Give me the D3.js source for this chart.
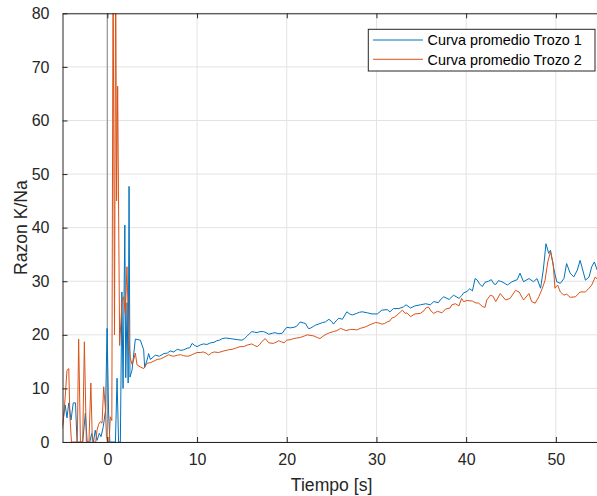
<!DOCTYPE html>
<html>
<head>
<meta charset="utf-8">
<script src="https://cdn.jsdelivr.net/npm/d3@7"></script>
<style>
  body { margin: 0; background: #fff; }
  svg { display: block; font-family: "Liberation Sans", Arial, sans-serif; }
</style>
</head>
<body>
<svg width="597" height="496"></svg>
<script>
// Curva promedio Trozo 1 (tiempo [s], razon K/Na)
var time1 = [-5.0, -4.7, -4.5, -4.3, -4.05, -3.8, -3.55, -3.38, -2.75, -2.45, -2.25, -1.95, -1.75, -1.55, -1.35, -1.15, -0.9, -0.7, -0.45, -0.2, -0.03, 0.14, 0.28, 0.9, 1.08, 1.25, 1.45, 1.62, 1.75, 1.95, 2.05, 2.2, 2.32, 2.42, 2.52, 2.75, 3.12, 3.68, 4.05, 4.16, 4.43, 4.6,
  4.8, 5.35, 5.8, 6.3, 6.7, 7.0, 7.4, 7.8, 8.2, 8.5, 8.9, 9.2, 9.45, 9.75, 10.0, 10.35, 10.7, 11.1, 11.5, 11.9, 12.2, 12.5, 12.8, 13.2, 13.7, 14.1, 14.5, 15.0, 15.3, 15.6, 15.9, 16.1, 16.4, 16.7, 17.0, 17.4, 17.7, 18.0, 18.4, 18.7, 19.1, 19.5, 19.75, 20.0, 20.4, 20.8, 21.1, 21.5, 21.9, 22.1, 22.4, 22.6, 23.0, 23.2, 23.7, 24.0, 24.3, 24.7, 25.0, 25.2, 25.5, 25.8, 26.2, 26.7, 27.0, 27.3, 27.8, 28.1, 28.4, 29.0, 29.5, 30.1, 30.6, 31.2, 31.5, 31.9, 32.5, 33.0, 33.3, 33.8, 34.3, 34.9, 35.5, 36.0, 36.4, 36.9, 37.1, 37.5, 38.1, 38.6, 39.2, 39.5, 39.7, 40.1, 40.4, 40.7, 41.0, 41.2, 41.5, 41.8, 42.1, 42.5, 42.8, 43.1, 43.3, 43.6, 43.8, 44.0, 44.6, 45.1, 45.7, 46.0, 46.4, 47.0, 47.5, 47.9, 48.3, 48.6, 48.9, 49.2, 49.4, 49.8, 50.1, 50.5, 50.9, 51.2, 51.6, 52.0, 52.4, 52.7, 52.9, 53.3, 53.7, 54.0, 54.3, 54.6, 55.0];
var trozo1 = [3.2, 6.9, 4.5, 7.3, 4.1, 7.3, 7.3, 0, 0, 5.4, 0, 0, 1.6, 0, 2.2, 0.3, 1.6, 1.0, 2.9, 6.0, 21.2, 5.4, 0, 0, 11.9, 0, 0, 28, 10, 40.5, 12, 26, 11, 47.7, 12.1, 13.4, 19.2, 19.0, 17.2, 13.9, 15.3, 16.5,
  15.4, 16.2, 16.0, 16.5, 16.6, 17.0, 16.8, 17.3, 17.1, 17.2, 17.5, 17.6, 18.4, 18.0, 17.8, 18.1, 18.3, 18.2, 18.5, 18.6, 18.9, 19.0, 19.3, 19.4, 19.3, 19.2, 19.1, 19.0, 19.3, 19.8, 20.3, 20.6, 20.5, 20.4, 20.6, 20.6, 20.4, 20.1, 20.3, 20.4, 20.2, 20.3, 20.9, 21.4, 21.3, 21.4, 21.6, 22.4, 22.2, 22.1, 21.2, 21.2, 21.6, 21.8, 22.1, 22.3, 22.4, 22.9, 22.5, 22.0, 22.6, 23.1, 22.9, 24.3, 23.9, 23.7, 24.0, 24.2, 24.3, 24.1, 23.9, 23.9, 24.6, 24.7, 24.3, 24.9, 24.9, 25.2, 25.6, 25.0, 25.4, 25.6, 25.8, 25.6, 26.2, 26.0, 26.5, 27.1, 26.6, 27.4, 26.8, 27.3, 27.8, 28.1, 28.6, 28.2, 30.5, 30.3, 29.5, 29.0, 29.8, 30.0, 30.3, 29.5, 29.4, 30.1, 30.0, 29.9, 29.3, 29.9, 30.3, 31.5, 29.9, 30.5, 29.9, 30.5, 28.7, 32.1, 37.0, 35.2, 35.8, 32.1, 29.9, 29.6, 30.5, 33.3, 31.5, 30.8, 32.1, 33.9, 32.7, 30.2, 30.8, 32.7, 33.6, 32.1, 31.5];

// Curva promedio Trozo 2
var time2 = [-5.0, -4.94, -4.7, -4.5, -4.3, -4.18, -4.0, -3.35, -3.2, -3.0, -2.75, -2.56, -2.34, -2.05, -1.84, -1.67, -1.3, -1.15, -0.97, -0.78, -0.59, -0.41, -0.22, -0.1, 0.05, 0.2, 0.33, 0.5, 0.64, 0.8, 0.93, 1.03, 1.15, 1.37, 1.64, 1.82, 2.0, 2.19, 2.37, 2.56, 2.75, 2.93, 3.12, 3.31, 3.68, 4.05, 4.43,
  4.8, 5.2, 5.55, 5.9, 6.3, 6.85, 7.1, 7.4, 7.8, 8.15, 8.5, 8.9, 9.2, 9.45, 10.0, 10.35, 10.7, 11.0, 11.3, 11.6, 11.9, 12.4, 13.0, 13.5, 13.9, 14.3, 14.8, 15.2, 15.6, 16.1, 16.4, 16.7, 17.0, 17.2, 17.6, 18.0, 18.5, 18.8, 19.1, 19.4, 19.7, 20.0, 20.4, 20.8, 21.1, 21.5, 22.0, 22.3, 22.6, 23.0, 23.4, 23.7, 24.1, 24.5, 24.8, 25.2, 25.6, 26.0, 26.3, 26.6, 27.1, 27.5, 27.8, 28.2, 28.8, 29.3, 29.9, 30.3, 30.6, 30.9, 31.2, 31.5, 31.7, 32.0, 32.3, 32.7, 32.9, 33.2, 33.4, 33.8, 34.3, 34.9, 35.3, 35.5, 35.8, 36.1, 36.4, 36.8, 37.3, 37.7, 38.2, 38.4, 38.8, 39.2, 39.5, 39.7, 40.1, 40.7, 41.0, 41.4, 41.8, 42.1, 42.3, 42.7, 43.0, 43.3, 43.8, 44.4, 44.9, 45.5, 45.9, 46.4, 47.0, 47.3, 47.7, 48.1, 48.5, 48.8, 49.1, 49.4, 49.7, 49.9, 50.2, 50.5, 50.9, 51.2, 51.6, 52.2, 52.7, 53.3, 53.7, 54.0, 54.4, 54.7, 55.0];
var trozo2 = [2.5, 3.5, 8.4, 13.4, 13.7, 5.0, 0, 0, 19.2, 0, 0, 18.7, 0, 0, 11.0, 0, 0, 2.2, 3.3, 3.8, 3.5, 10.3, 6.3, 1.0, 0, 0, 4.7, 4.0, 90, 20, 90, 45, 66.4, 18, 26.5, 27.1, 24, 32.7, 19.6, 15.7, 14.5, 15.3, 16.6, 14.4, 14.0, 13.7, 14.7,
  14.8, 15.1, 15.4, 15.5, 15.8, 16.3, 16.1, 16.0, 16.2, 16.3, 16.1, 16.0, 16.1, 16.3, 16.7, 16.7, 16.8, 16.6, 16.2, 16.6, 16.8, 16.7, 17.0, 17.2, 17.3, 17.5, 17.8, 17.8, 18.1, 18.3, 18.0, 17.8, 18.2, 18.7, 19.3, 18.5, 18.4, 18.6, 18.9, 18.7, 18.5, 19.0, 19.1, 19.3, 19.4, 19.5, 19.8, 20.0, 19.9, 19.8, 19.5, 19.3, 19.8, 20.2, 20.4, 20.6, 20.8, 21.2, 21.0, 20.8, 21.0, 21.0, 20.9, 21.2, 21.5, 21.9, 22.3, 22.2, 22.0, 22.1, 22.4, 22.6, 23.1, 23.3, 23.7, 24.3, 24.6, 24.0, 24.1, 23.4, 23.9, 24.0, 24.5, 25.0, 25.2, 24.4, 24.0, 24.4, 24.1, 24.8, 25.0, 25.6, 25.8, 25.4, 26.8, 26.2, 26.4, 26.3, 26.0, 25.9, 25.3, 25.1, 26.5, 27.4, 27.2, 26.2, 27.7, 26.5, 26.8, 28.3, 28.0, 26.5, 27.7, 26.2, 25.9, 27.1, 28.7, 30.2, 33.6, 35.5, 33.3, 28.7, 29.3, 28.0, 27.4, 27.6, 27.0, 27.1, 28.0, 28.0, 28.7, 29.3, 30.8, 30.2, 30.5];

var seriesNames = ['Curva promedio Trozo 1', 'Curva promedio Trozo 2'];
var xTicks = [0, 10, 20, 30, 40, 50];
var yTicks = [0, 10, 20, 30, 40, 50, 60, 70, 80];

document.addEventListener('DOMContentLoaded', function () {
    var svg = d3.select('svg');
    var colors = ['#0072BD', '#D95319'];
    var axisColor = '#262626';

    var left = 62.5, right = 600.7, top = 13.3, bottom = 442;
    var x = d3.scaleLinear().domain([-5, 55]).range([left, right]);
    var y = d3.scaleLinear().domain([0, 80]).range([bottom, top]);

    svg.append('defs').append('clipPath').attr('id', 'plotclip')
        .append('rect')
        .attr('x', left).attr('y', top)
        .attr('width', right - left).attr('height', bottom - top);

    // grid
    var grid = svg.append('g').attr('stroke', '#e3e3e3').attr('stroke-width', 1);
    grid.selectAll('.gx').data(xTicks).enter().append('line')
        .attr('x1', function (d) { return x(d); }).attr('x2', function (d) { return x(d); })
        .attr('y1', top).attr('y2', bottom);
    grid.selectAll('.gy').data(yTicks).enter().append('line')
        .attr('x1', left).attr('x2', right)
        .attr('y1', function (d) { return y(d); }).attr('y2', function (d) { return y(d); });

    // vertical marker at t = 0
    svg.append('line')
        .attr('x1', x(0)).attr('x2', x(0))
        .attr('y1', top).attr('y2', bottom)
        .attr('stroke', '#9b9b9b').attr('stroke-width', 1.3);

    // curves
    var line = d3.line()
        .x(function (d) { return x(d[0]); })
        .y(function (d) { return y(d[1]); });

    var data = [d3.zip(time1, trozo1), d3.zip(time2, trozo2)];
    svg.append('g').attr('clip-path', 'url(#plotclip)')
        .selectAll('path').data(data).enter().append('path')
        .attr('d', line)
        .attr('fill', 'none')
        .attr('stroke', function (d, i) { return colors[i]; })
        .attr('stroke-width', 1)
        .attr('stroke-linejoin', 'round');

    // axes (MATLAB style, ticks inside, box)
    var xAxis = svg.append('g').attr('transform', 'translate(0,' + bottom + ')')
        .call(d3.axisBottom(x).tickValues(xTicks).tickSizeInner(-5).tickSizeOuter(0).tickPadding(12));
    var yAxis = svg.append('g').attr('transform', 'translate(' + left + ',0)')
        .call(d3.axisLeft(y).tickValues(yTicks).tickSizeInner(-5).tickSizeOuter(0).tickPadding(13));
    var xTop = svg.append('g').attr('transform', 'translate(0,' + top + ')')
        .call(d3.axisTop(x).tickValues(xTicks).tickSizeInner(-5).tickSizeOuter(0).tickFormat(''));

    [xAxis, yAxis, xTop].forEach(function (g) {
        g.select('.domain').attr('stroke', axisColor).attr('stroke-width', 1);
        g.selectAll('.tick line').attr('stroke', axisColor).attr('stroke-width', 1);
        g.selectAll('.tick text').attr('fill', axisColor)
            .style('font-size', '16px').style('font-family', '"Liberation Sans", Arial, sans-serif');
    });

    // axis labels
    svg.append('text')
        .attr('x', (left + right) / 2).attr('y', 491)
        .attr('text-anchor', 'middle')
        .attr('fill', axisColor)
        .style('font-size', '17.6px')
        .text('Tiempo [s]');

    svg.append('text')
        .attr('transform', 'translate(27,' + ((top + bottom) / 2) + ') rotate(-90)')
        .attr('text-anchor', 'middle')
        .attr('fill', axisColor)
        .style('font-size', '17.6px')
        .text('Razon K/Na');

    // legend
    var legend = svg.append('g');
    legend.append('rect')
        .attr('x', 368.3).attr('y', 29.3)
        .attr('width', 226.7).attr('height', 41.7)
        .attr('fill', '#fff')
        .attr('stroke', axisColor).attr('stroke-width', 1);

    var rows = legend.selectAll('.row').data(seriesNames).enter().append('g')
        .attr('transform', function (d, i) { return 'translate(0,' + (40 + i * 19.3) + ')'; });
    rows.append('line')
        .attr('x1', 373).attr('x2', 423)
        .attr('y1', 0).attr('y2', 0)
        .attr('stroke', function (d, i) { return colors[i]; })
        .attr('stroke-width', 1);
    rows.append('text')
        .attr('x', 427.5).attr('y', 5.2)
        .attr('fill', '#000')
        .style('font-size', '14.4px')
        .text(function (d) { return d; });
});
</script>
</body>
</html>
